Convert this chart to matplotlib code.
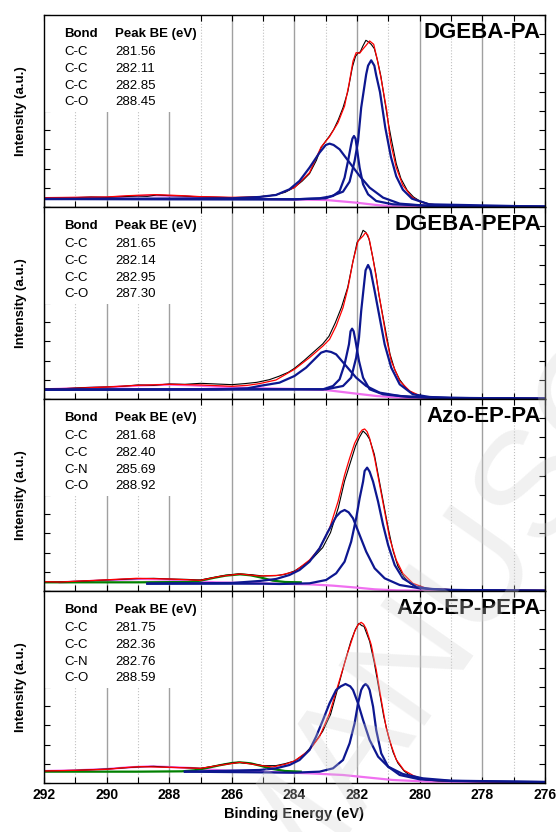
import matplotlib
matplotlib.use("Agg")
import matplotlib.pyplot as plt
from matplotlib.patches import Rectangle
from matplotlib.ticker import MultipleLocator

plt.rcParams['font.family'] = ['Liberation Sans', 'DejaVu Sans']

# ---------------- data (binding energy in eV, intensity in a.u.) ----------------
titles = ["DGEBA-PA", "DGEBA-PEPA", "Azo-EP-PA", "Azo-EP-PEPA"]
bonds = [["C-C", "C-C", "C-C", "C-O"],
         ["C-C", "C-C", "C-C", "C-O"],
         ["C-C", "C-C", "C-N", "C-O"],
         ["C-C", "C-C", "C-N", "C-O"]]
peak_be = [["281.56", "282.11", "282.85", "288.45"],
           ["281.65", "282.14", "282.95", "287.30"],
           ["281.68", "282.40", "285.69", "288.92"],
           ["281.75", "282.36", "282.76", "288.59"]]

# panel 1 : DGEBA-PA
p1_raw_e = [292, 291.5, 291, 290.5, 290, 289.5, 289, 288.7, 288.4, 288, 287.6, 287.2, 286.8, 286.4, 286,
            285.6, 285.12, 284.8, 284.59, 284.3, 284.0, 283.75, 283.52, 283.3, 283.15, 283.0, 282.88,
            282.75, 282.6, 282.45, 282.3, 282.15, 282.05, 281.97, 281.9, 281.82, 281.72, 281.65, 281.55,
            281.45, 281.35, 281.24, 281.12, 281.0, 280.9, 280.75, 280.6, 280.4, 280.2, 280.0, 279.7,
            279.3, 279, 278.5, 278, 277.5, 277, 276.5, 276]
p1_raw_y = [27, 28, 28, 30, 29, 31, 33, 32, 36, 34, 33, 31, 30, 29, 28, 29, 31, 34, 37, 44, 59, 78, 100,
            140, 178, 198, 213, 232, 262, 298, 345, 420, 452, 462, 465, 482, 500, 496, 488, 475, 440, 392,
            320, 250, 200, 130, 85, 50, 30, 18, 9, 5, 4, 3, 3, 2, 2, 2, 2]
p1_fit_e = [292, 291, 290, 289.3, 288.45, 287.6, 287, 286, 285.12, 284.59, 284.0, 283.52, 283.15, 282.88,
            282.61, 282.40, 282.26, 282.13, 282.03, 281.92, 281.83, 281.73, 281.60, 281.47, 281.37, 281.24,
            281.06, 280.93, 280.75, 280.54, 280.25, 280.0, 279.7, 279, 278, 276]
p1_fit_y = [28, 29, 30, 34, 37, 34, 31, 29, 30, 36, 58, 103, 180, 211, 253, 303, 368, 438, 463, 461, 472,
            483, 498, 488, 448, 388, 293, 193, 118, 65, 30, 16, 8, 4, 2, 1]
p1_c1_e = [292, 284.0, 283.0, 282.45, 282.24, 282.08, 281.97, 281.87, 281.71, 281.65, 281.55, 281.45,
           281.39, 281.27, 281.10, 280.92, 280.75, 280.54, 280.25, 279.7, 276]
p1_c1_y = [24, 23, 26, 46, 76, 138, 198, 298, 398, 424, 440, 424, 395, 345, 238, 150, 92, 52, 25, 8, 1]
p1_c2_e = [292, 284.0, 283.2, 282.77, 282.56, 282.40, 282.29, 282.19, 282.15, 282.10, 282.05, 282.01,
           281.92, 281.81, 281.65, 281.39, 280.86, 279.7, 276]
p1_c2_y = [24, 23, 26, 33, 48, 88, 138, 188, 205, 213, 205, 178, 118, 68, 38, 18, 8, 4, 1]
p1_c3_e = [292, 286, 285.12, 284.59, 284.16, 283.84, 283.52, 283.20, 283.0, 282.88, 282.75, 282.56,
           282.24, 281.92, 281.60, 281.17, 280.64, 279.7, 276]
p1_c3_y = [24, 26, 30, 36, 53, 78, 118, 163, 186, 190, 186, 173, 133, 93, 58, 28, 10, 3, 1]
p1_co_e = [292, 290, 289.3, 288.45, 287.6, 287, 286, 285, 283, 282.03, 281.39, 280.86, 279.7, 276]
p1_co_y = [26, 28, 32, 35, 32, 29, 26, 24, 21, 13, 6, 2, 0, 0]

# panel 2 : DGEBA-PEPA
p2_raw_e = [292, 291.5, 291, 290.5, 290, 289.5, 289, 288.5, 288, 287.5, 287, 286.5, 286, 285.6, 285.2,
            284.8, 284.5, 284.2, 284.0, 283.7, 283.4, 283.1, 282.9, 282.7, 282.5, 282.3, 282.15, 282.0,
            281.92, 281.81, 281.72, 281.62, 281.5, 281.4, 281.3, 281.2, 281.07, 280.95, 280.8, 280.64,
            280.45, 280.3, 280.1, 279.9, 279.5, 279, 278, 277, 276]
p2_raw_y = [31, 30, 33, 35, 36, 38, 42, 41, 45, 44, 47, 45, 43, 46, 50, 58, 68, 80, 92, 115, 140, 165,
            188, 228, 275, 335, 405, 470, 480, 506, 500, 480, 425, 375, 310, 260, 195, 135, 88, 58, 34,
            22, 12, 7, 4, 3, 2, 2, 2]
p2_fit_e = [292, 291, 290, 289, 288, 287, 286, 285.5, 285.12, 284.59, 284.0, 283.52, 283.09, 282.88,
            282.67, 282.45, 282.29, 282.13, 281.97, 281.81, 281.73, 281.66, 281.60, 281.49, 281.39, 281.23,
            281.07, 280.91, 280.64, 280.32, 279.9, 279, 278, 276]
p2_fit_y = [30, 32, 36, 41, 44, 42, 38, 41, 46, 57, 89, 124, 159, 179, 219, 274, 334, 414, 474, 489, 499,
            492, 474, 420, 364, 274, 184, 114, 54, 24, 6, 3, 2, 2]
p2_c1_e = [292, 285.12, 282.99, 282.45, 282.19, 282.03, 281.94, 281.87, 281.79, 281.73, 281.65, 281.57,
           281.44, 281.28, 281.12, 280.91, 280.64, 280.22, 279.68, 279, 276]
p2_c1_y = [28, 29, 29, 39, 64, 124, 184, 264, 334, 386, 402, 386, 324, 244, 164, 94, 44, 14, 6, 3, 1]
p2_c2_e = [292, 283.09, 282.77, 282.56, 282.40, 282.26, 282.21, 282.16, 282.11, 282.05, 281.94, 281.81,
           281.60, 281.17, 280.32, 279, 276]
p2_c2_y = [28, 29, 39, 59, 104, 164, 203, 211, 203, 174, 114, 64, 29, 14, 6, 3, 1]
p2_c3_e = [292, 286.5, 285.5, 285.12, 284.48, 284.0, 283.63, 283.31, 283.15, 282.99, 282.83, 282.67,
           282.35, 282.03, 281.71, 281.28, 280.64, 279.68, 276]
p2_c3_y = [28, 29, 32, 39, 49, 69, 94, 124, 139, 144, 141, 134, 99, 64, 39, 19, 9, 4, 1]
p2_co_e = [292, 290, 289, 288, 287.3, 286.5, 285.7, 285, 284, 283, 282.03, 281.39, 280.64, 279.68, 276]
p2_co_y = [29, 35, 40, 43, 41, 37, 34, 32, 30, 27, 16, 9, 4, 1, 0]

# panel 3 : Azo-EP-PA
p3_raw_e = [292, 291.5, 291, 290.5, 290, 289.5, 289, 288.5, 288, 287.5, 287, 286.6, 286.2, 285.8, 285.4,
            285.0, 284.6, 284.3, 284.0, 283.7, 283.4, 283.1, 282.85, 282.6, 282.4, 282.2, 282.05, 281.92,
            281.81, 281.7, 281.6, 281.45, 281.3, 281.15, 281.0, 280.85, 280.7, 280.5, 280.3, 280.1,
            279.8, 279.4, 279, 278, 277, 276]
p3_raw_y = [28, 27, 29, 31, 33, 35, 37, 38, 36, 35, 33, 40, 47, 51, 49, 45, 46, 50, 60, 78, 100, 130, 175,
            250, 330, 390, 435, 462, 480, 470, 455, 410, 335, 260, 185, 120, 75, 42, 22, 12, 7, 4, 3,
            2, 2, 2]
p3_fit_e = [292, 291.5, 290.1, 289.05, 288.0, 287.0, 286.38, 285.74, 285.12, 284.48, 284.0, 283.52,
            283.2, 282.88, 282.61, 282.40, 282.24, 282.08, 281.92, 281.84, 281.76, 281.68, 281.60, 281.44,
            281.28, 281.12, 280.96, 280.75, 280.54, 280.22, 279.79, 279, 278, 276]
p3_fit_y = [28, 27, 33, 38, 36, 32, 44, 51, 45, 47, 58, 93, 128, 188, 268, 348, 398, 443, 473, 483, 486,
            478, 458, 398, 318, 238, 158, 93, 53, 23, 8, 4, 3, 2]
p3_c1_e = [288.7, 285.0, 284.48, 283.52, 282.99, 282.67, 282.40, 282.19, 282.03, 281.92, 281.81, 281.76,
           281.68, 281.60, 281.49, 281.33, 281.17, 281.01, 280.80, 280.54, 280.11, 279.68, 279, 276]
p3_c1_y = [22, 22, 21, 23, 33, 53, 88, 148, 218, 278, 328, 360, 370, 358, 328, 268, 198, 138, 78, 38, 13,
           6, 3, 1]
p3_c2_e = [288.7, 286, 285.12, 284.59, 284.16, 283.84, 283.52, 283.20, 282.93, 282.67, 282.53, 282.40,
           282.27, 282.13, 281.92, 281.71, 281.44, 281.12, 280.64, 280.0, 279, 276]
p3_c2_y = [22, 24, 30, 36, 48, 63, 88, 128, 178, 223, 237, 243, 236, 218, 168, 118, 68, 38, 18, 8, 3, 1]
p3_cn_e = [292, 289, 287.4, 287.0, 286.6, 286.2, 285.74, 285.4, 285.1, 284.69, 284.3, 283.8]
p3_cn_y = [26, 26, 27, 31, 39, 46, 50, 47, 41, 31, 27, 26]
p3_co_e = [291.5, 290.5, 289.5, 288.9, 288, 287.3, 286.5, 285.5, 285.12, 283.52, 282.77, 282.0, 281.44,
           280.75, 279.68, 276]
p3_co_y = [26, 30, 34, 36, 34, 30, 26, 24, 23, 20, 16, 10, 5, 2, 1, 0]

# panel 4 : Azo-EP-PEPA
p4_raw_e = [292, 291.5, 291, 290.5, 290, 289.5, 289, 288.5, 288, 287.5, 287, 286.6, 286.2, 285.8, 285.4,
            285.0, 284.6, 284.3, 284.0, 283.7, 283.4, 283.1, 282.85, 282.6, 282.4, 282.2, 282.05, 281.94,
            281.85, 281.78, 281.7, 281.6, 281.45, 281.3, 281.15, 281.0, 280.85, 280.7, 280.5, 280.3,
            280.1, 279.8, 279.4, 279, 278, 277, 276]
p4_raw_y = [36, 37, 38, 40, 42, 45, 48, 50, 47, 46, 44, 50, 57, 62, 58, 52, 52, 58, 66, 85, 115, 155, 205,
            290, 360, 425, 462, 479, 472, 470, 450, 425, 360, 280, 200, 140, 92, 60, 36, 22, 14, 9, 6,
            5, 4, 3, 3]
p4_fit_e = [292, 291, 290, 289.3, 288.9, 288, 287.3, 287, 286.4, 285.74, 285.12, 284.7, 284.3, 284.0,
            283.52, 283.2, 282.88, 282.56, 282.29, 282.08, 281.97, 281.87, 281.79, 281.71, 281.55, 281.39,
            281.23, 281.07, 280.9, 280.75, 280.5, 280.2, 280.0, 279.68, 279, 278, 277, 276]
p4_fit_y = [36, 38, 41, 47, 49, 47, 45, 44, 53, 62, 53, 48, 56, 66, 99, 139, 209, 309, 394, 454, 475, 482,
            476, 462, 415, 340, 250, 165, 110, 70, 38, 22, 15, 10, 6, 4, 3, 2]
p4_c1_e = [287.5, 284.0, 283.20, 282.77, 282.45, 282.24, 282.08, 281.97, 281.87, 281.80, 281.73, 281.66,
           281.60, 281.49, 281.39, 281.23, 281.01, 280.64, 280.0, 279, 276]
p4_c1_y = [34, 31, 34, 44, 69, 119, 179, 239, 279, 291, 297, 291, 279, 229, 159, 89, 49, 24, 11, 6, 3]
p4_c2_e = [287.5, 285.12, 284.59, 284.16, 283.84, 283.52, 283.31, 283.09, 282.88, 282.67, 282.52, 282.37,
           282.22, 282.13, 281.97, 281.81, 281.60, 281.33, 281.01, 280.54, 279.90, 279, 276]
p4_c2_y = [34, 39, 44, 54, 69, 99, 139, 189, 239, 279, 290, 297, 290, 279, 239, 189, 129, 79, 49, 27, 14,
           7, 3]
p4_cn_e = [292, 289, 287.6, 287.2, 286.8, 286.4, 286.0, 285.74, 285.4, 285.1, 284.7, 284.3, 283.8]
p4_cn_y = [34, 34, 35, 38, 45, 53, 60, 62, 59, 52, 42, 36, 34]
p4_co_e = [292, 291, 290, 289.3, 288.6, 288, 287.3, 286.8, 286.2, 285.5, 285.12, 283.52, 282.45, 281.71,
           280.86, 279.68, 276]
p4_co_y = [36, 38, 42, 47, 50, 48, 45, 41, 37, 35, 34, 29, 24, 17, 9, 4, 2]

raw_e = [p1_raw_e, p2_raw_e, p3_raw_e, p4_raw_e]
raw_y = [p1_raw_y, p2_raw_y, p3_raw_y, p4_raw_y]
fit_e = [p1_fit_e, p2_fit_e, p3_fit_e, p4_fit_e]
fit_y = [p1_fit_y, p2_fit_y, p3_fit_y, p4_fit_y]
comps = [[(p1_c1_e, p1_c1_y), (p1_c2_e, p1_c2_y), (p1_c3_e, p1_c3_y)],
         [(p2_c1_e, p2_c1_y), (p2_c2_e, p2_c2_y), (p2_c3_e, p2_c3_y)],
         [(p3_c1_e, p3_c1_y), (p3_c2_e, p3_c2_y)],
         [(p4_c1_e, p4_c1_y), (p4_c2_e, p4_c2_y)]]
cn_peaks = [None, None, (p3_cn_e, p3_cn_y), (p4_cn_e, p4_cn_y)]
co_peaks = [(p1_co_e, p1_co_y), (p2_co_e, p2_co_y), (p3_co_e, p3_co_y), (p4_co_e, p4_co_y)]

navy = '#0d1790'
pink = '#f070f0'

fig = plt.figure(figsize=(5.56, 8.32), dpi=100)
axs = fig.subplots(4, 1, sharex=True)
fig.subplots_adjust(left=0.0791, right=0.9802, bottom=0.0589, top=0.982, hspace=0)

for i, ax in enumerate(axs):
    ax.set_axisbelow(True)
    ax.grid(which='major', axis='x', color='#a0a0a0', lw=1.0)
    ax.grid(which='minor', axis='x', color='#c0c0c0', lw=0.8, ls=':')
    ax.add_patch(Rectangle((0, 0.495), 0.307, 0.505, transform=ax.transAxes,
                           fc='white', ec='none', zorder=1))

    co_e, co_y = co_peaks[i]
    ax.plot(co_e, co_y, color=pink, lw=1.6, zorder=2)
    if cn_peaks[i] is not None:
        ax.plot(cn_peaks[i][0], cn_peaks[i][1], color='#008000', lw=1.6, zorder=2.1)
    ax.plot(raw_e[i], raw_y[i], color='black', lw=0.8, zorder=2.2)
    ax.plot(fit_e[i], fit_y[i], color='red', lw=0.9, zorder=2.3)
    for ce, cy in comps[i]:
        ax.plot(ce, cy, color=navy, lw=1.6, zorder=2.4, solid_joinstyle='round')

    ax.set_xlim(292, 276)
    ax.set_ylim(0, 576)
    ax.xaxis.set_major_locator(MultipleLocator(2))
    ax.xaxis.set_minor_locator(MultipleLocator(1))
    ax.yaxis.set_major_locator(MultipleLocator(57.6))
    ax.tick_params(which='both', direction='in', top=True, right=True, labelleft=False,
                   length=4, width=0.8)
    for s in ax.spines.values():
        s.set_linewidth(1.0)

    ax.set_ylabel("Intensity (a.u.)", fontsize=9.5, fontweight='bold')
    ax.yaxis.set_label_coords(-0.034, 0.5)

    ax.text(0.992, 0.91, titles[i], transform=ax.transAxes, ha='right', va='center',
            fontsize=16, fontweight='bold')
    ax.text(0.040, 0.900, "Bond", transform=ax.transAxes, va='center', fontsize=9.5,
            fontweight='bold')
    ax.text(0.142, 0.900, "Peak BE (eV)", transform=ax.transAxes, va='center', fontsize=9.5,
            fontweight='bold')
    for r in range(4):
        yy = 0.806 - r * 0.087
        ax.text(0.040, yy, bonds[i][r], transform=ax.transAxes, va='center', fontsize=9.5)
        ax.text(0.142, yy, peak_be[i][r], transform=ax.transAxes, va='center', fontsize=9.5)

axs[-1].set_xticks(range(292, 275, -2))
axs[-1].set_xticklabels([str(v) for v in range(292, 275, -2)], fontsize=10, fontweight='bold')
axs[-1].set_xlabel("Binding Energy (eV)", fontsize=10.5, fontweight='bold', labelpad=4)

# faint diagonal watermark, cropped by the figure edge as in the source
fig.text(0.97, 0.427, "MANUSCRIPT", rotation=55, fontsize=110, color='#d0d0d0', alpha=0.3,
         ha='center', va='center', zorder=5)

fig.savefig("out.png", dpi=100)
